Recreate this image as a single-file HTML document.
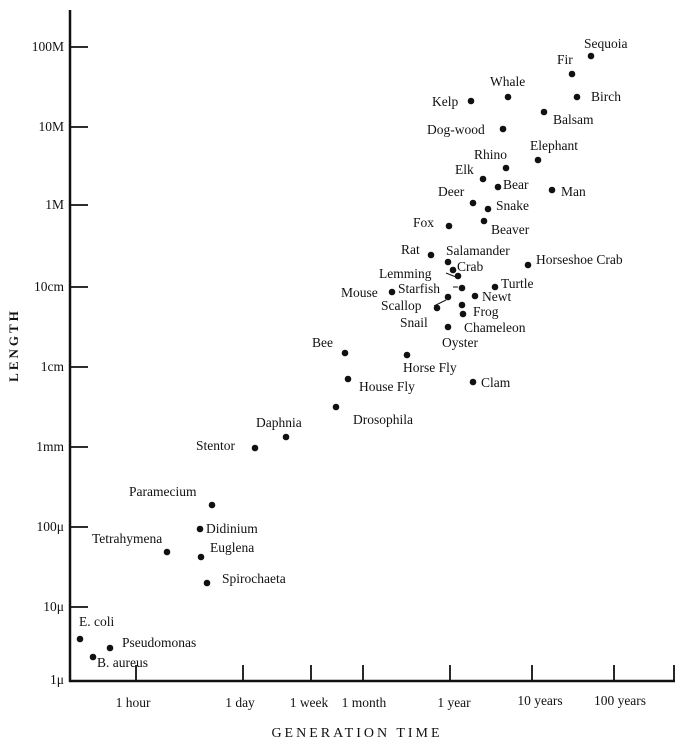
<!DOCTYPE html>
<html><head><meta charset="utf-8"><style>
body{margin:0;background:#fff}
svg text{font-family:"Liberation Serif",serif;font-size:13.5px;fill:#111}
</style></head><body>
<svg width="680" height="740" viewBox="0 0 680 740" xmlns="http://www.w3.org/2000/svg">
<g stroke="#111" stroke-width="2.5" fill="none">
<line x1="70" y1="10" x2="70" y2="682"/>
<line x1="69" y1="681" x2="675" y2="681"/>
</g>
<g stroke="#111" stroke-width="1.8">
<line x1="70" y1="47" x2="88" y2="47"/><line x1="70" y1="127" x2="88" y2="127"/>
<line x1="70" y1="205" x2="88" y2="205"/><line x1="70" y1="287" x2="88" y2="287"/>
<line x1="70" y1="367" x2="88" y2="367"/><line x1="70" y1="447" x2="88" y2="447"/>
<line x1="70" y1="527" x2="88" y2="527"/><line x1="70" y1="607" x2="88" y2="607"/>
<line x1="136" y1="681" x2="136" y2="665"/><line x1="243" y1="681" x2="243" y2="665"/>
<line x1="311" y1="681" x2="311" y2="665"/><line x1="363" y1="681" x2="363" y2="665"/>
<line x1="450" y1="681" x2="450" y2="665"/><line x1="532" y1="681" x2="532" y2="665"/>
<line x1="614" y1="681" x2="614" y2="665"/><line x1="674" y1="681" x2="674" y2="665"/>
</g>
<g text-anchor="end">
<text x="64" y="51">100M</text><text x="64" y="131">10M</text><text x="64" y="209">1M</text>
<text x="64" y="291">10cm</text><text x="64" y="371">1cm</text><text x="64" y="451">1mm</text>
<text x="64" y="531">100μ</text><text x="64" y="611">10μ</text><text x="64" y="684">1μ</text>
</g>
<g text-anchor="middle">
<text x="133" y="707">1 hour</text><text x="240" y="707">1 day</text><text x="309" y="707">1 week</text>
<text x="364" y="707">1 month</text><text x="454" y="707">1 year</text><text x="540" y="705">10 years</text>
<text x="620" y="705">100 years</text>
<text x="357" y="737" style="letter-spacing:3px;font-size:14px">GENERATION TIME</text>
</g>
<text transform="translate(18,345) rotate(-90)" text-anchor="middle" style="letter-spacing:3px;font-size:13px;font-weight:bold">LENGTH</text>
<g fill="#111">
<circle cx="591" cy="56" r="3.3"/><circle cx="572" cy="74" r="3.3"/><circle cx="577" cy="97" r="3.3"/>
<circle cx="508" cy="97" r="3.3"/><circle cx="471" cy="101" r="3.3"/><circle cx="544" cy="112" r="3.3"/>
<circle cx="503" cy="129" r="3.3"/><circle cx="538" cy="160" r="3.3"/><circle cx="506" cy="168" r="3.3"/>
<circle cx="483" cy="179" r="3.3"/><circle cx="498" cy="187" r="3.3"/><circle cx="552" cy="190" r="3.3"/>
<circle cx="473" cy="203" r="3.3"/><circle cx="488" cy="209" r="3.3"/><circle cx="449" cy="226" r="3.3"/>
<circle cx="484" cy="221" r="3.3"/><circle cx="431" cy="255" r="3.3"/><circle cx="448" cy="262" r="3.3"/>
<circle cx="453" cy="270" r="3.3"/><circle cx="528" cy="265" r="3.3"/><circle cx="458" cy="276" r="3.3"/>
<circle cx="462" cy="288" r="3.3"/><circle cx="495" cy="287" r="3.3"/><circle cx="392" cy="292" r="3.3"/>
<circle cx="448" cy="297" r="3.3"/><circle cx="475" cy="296" r="3.3"/><circle cx="462" cy="305" r="3.3"/>
<circle cx="463" cy="314" r="3.3"/><circle cx="437" cy="308" r="3.3"/><circle cx="448" cy="327" r="3.3"/>
<circle cx="345" cy="353" r="3.3"/><circle cx="407" cy="355" r="3.3"/><circle cx="348" cy="379" r="3.3"/>
<circle cx="473" cy="382" r="3.3"/><circle cx="336" cy="407" r="3.3"/><circle cx="286" cy="437" r="3.3"/>
<circle cx="255" cy="448" r="3.3"/><circle cx="212" cy="505" r="3.3"/><circle cx="200" cy="529" r="3.3"/>
<circle cx="167" cy="552" r="3.3"/><circle cx="201" cy="557" r="3.3"/><circle cx="207" cy="583" r="3.3"/>
<circle cx="80" cy="639" r="3.3"/><circle cx="110" cy="648" r="3.3"/><circle cx="93" cy="657" r="3.3"/>
</g>
<g stroke="#111" stroke-width="1"><line x1="434" y1="306" x2="446" y2="300"/><line x1="446" y1="273" x2="456" y2="277"/><line x1="453" y1="287" x2="458" y2="287"/></g>
<text x="584" y="48">Sequoia</text><text x="557" y="64">Fir</text><text x="591" y="101">Birch</text>
<text x="490" y="86">Whale</text><text x="432" y="106">Kelp</text><text x="553" y="124">Balsam</text>
<text x="427" y="134">Dog-wood</text><text x="530" y="150">Elephant</text><text x="474" y="159">Rhino</text>
<text x="455" y="174">Elk</text><text x="503" y="189">Bear</text><text x="561" y="196">Man</text>
<text x="438" y="196">Deer</text><text x="496" y="210">Snake</text><text x="413" y="227">Fox</text>
<text x="491" y="234">Beaver</text><text x="401" y="254">Rat</text><text x="446" y="255">Salamander</text>
<text x="457" y="271">Crab</text><text x="536" y="264">Horseshoe Crab</text><text x="379" y="278">Lemming</text>
<text x="398" y="293">Starfish</text><text x="501" y="288">Turtle</text><text x="341" y="297">Mouse</text>
<text x="482" y="301">Newt</text><text x="381" y="310">Scallop</text><text x="473" y="316">Frog</text>
<text x="400" y="327">Snail</text><text x="464" y="332">Chameleon</text><text x="442" y="347">Oyster</text>
<text x="312" y="347">Bee</text><text x="403" y="372">Horse Fly</text><text x="359" y="391">House Fly</text>
<text x="481" y="387">Clam</text><text x="353" y="424">Drosophila</text><text x="256" y="427">Daphnia</text>
<text x="196" y="450">Stentor</text><text x="129" y="496">Paramecium</text><text x="206" y="533">Didinium</text>
<text x="92" y="543">Tetrahymena</text><text x="210" y="552">Euglena</text><text x="222" y="583">Spirochaeta</text>
<text x="79" y="626">E. coli</text><text x="122" y="647">Pseudomonas</text><text x="97" y="667">B.  aureus</text>
</svg>
</body></html>
